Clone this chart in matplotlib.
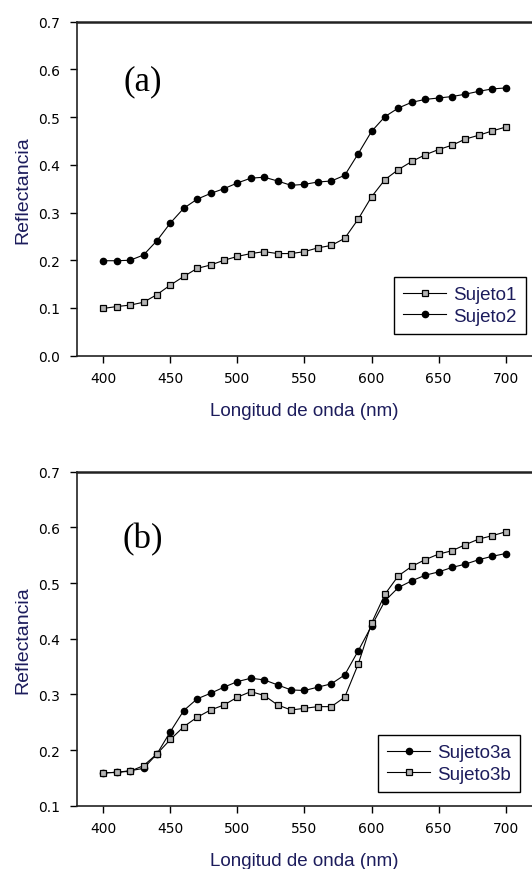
import matplotlib
matplotlib.use("Agg")
import matplotlib.pyplot as plt
import numpy as np

wavelength = list(range(400, 701, 10))

sujeto1 = [0.099, 0.103, 0.106, 0.112, 0.128, 0.148, 0.166, 0.183, 0.190, 0.200,
           0.208, 0.214, 0.218, 0.214, 0.214, 0.218, 0.226, 0.231, 0.246, 0.286,
           0.333, 0.369, 0.390, 0.407, 0.421, 0.432, 0.441, 0.454, 0.462, 0.471, 0.479]
sujeto2 = [0.199, 0.199, 0.200, 0.211, 0.241, 0.278, 0.309, 0.328, 0.340, 0.350,
           0.362, 0.372, 0.374, 0.366, 0.357, 0.359, 0.364, 0.366, 0.378, 0.423,
           0.470, 0.501, 0.519, 0.531, 0.537, 0.540, 0.543, 0.548, 0.554, 0.559, 0.561]
sujeto3a = [0.159, 0.160, 0.163, 0.167, 0.193, 0.233, 0.271, 0.292, 0.302, 0.313,
            0.323, 0.329, 0.326, 0.317, 0.308, 0.307, 0.313, 0.319, 0.335, 0.378,
            0.423, 0.468, 0.492, 0.504, 0.514, 0.520, 0.528, 0.534, 0.542, 0.548, 0.553]
sujeto3b = [0.159, 0.160, 0.162, 0.172, 0.193, 0.219, 0.242, 0.259, 0.272, 0.281,
            0.295, 0.305, 0.298, 0.281, 0.272, 0.275, 0.278, 0.278, 0.295, 0.354,
            0.428, 0.480, 0.513, 0.530, 0.542, 0.552, 0.558, 0.569, 0.579, 0.585, 0.592]

xticks = [400, 450, 500, 550, 600, 650, 700]
label_color = "#1c1c5c"
label_font = "Liberation Sans"

fig = plt.figure(figsize=(5.32, 8.7), dpi=100)
ax1 = fig.add_axes([0.1447, 0.590, 1.0 - 0.1447, 0.384])
ax2 = fig.add_axes([0.1447, 0.0727, 1.0 - 0.1447, 0.384])

sq = dict(marker="s", markersize=4.3, markerfacecolor="#b4b4b4", markeredgecolor="black",
          markeredgewidth=0.9, color="black", linewidth=0.8)
ci = dict(marker="o", markersize=4.5, markerfacecolor="black", markeredgecolor="black",
          color="black", linewidth=0.8)

ax1.plot(wavelength, sujeto1, label="Sujeto1", **sq)
ax1.plot(wavelength, sujeto2, label="Sujeto2", **ci)
ax2.plot(wavelength, sujeto3a, label="Sujeto3a", **ci)
ax2.plot(wavelength, sujeto3b, label="Sujeto3b", **sq)

panels = [(ax1, 0.0, "(a)", (0.986, 0.065), 82),
          (ax2, 0.1, "(b)", (0.974, 0.041), 540)]
for ax, ylo, tag, leg_anchor, tag_y in panels:
    ax.set_xlim(380.4, 719.6)
    ax.set_ylim(ylo, 0.7)
    ax.set_xticks(xticks)
    ax.set_yticks(np.round(np.arange(ylo, 0.71, 0.1), 1))
    ax.yaxis.set_major_formatter(matplotlib.ticker.FormatStrFormatter("%.1f"))
    ax.tick_params(direction="out", length=5, width=1, labelsize=10)
    ax.tick_params(axis="y", pad=7)
    ax.tick_params(axis="x", pad=6)
    ax.spines["right"].set_visible(False)
    for s in ["left", "bottom", "top"]:
        ax.spines[s].set_linewidth(1.2)
        ax.spines[s].set_color("#222222")
    ax.spines["top"].set_linewidth(1.8)
    ax.set_ylabel("Reflectancia", fontsize=14, color=label_color, labelpad=5,
                  family=label_font)
    ax.set_xlabel("Longitud de onda (nm)", fontsize=13.5, color=label_color, labelpad=12,
                  family=label_font)
    fig.text(143 / 532, 1 - tag_y / 870, tag, fontsize=25, family="Liberation Serif",
             ha="center", va="center")
    leg = ax.legend(loc="lower right", bbox_to_anchor=leg_anchor, borderaxespad=0,
                    fancybox=False, framealpha=1, edgecolor="black",
                    prop={"family": label_font, "size": 13.5},
                    handlelength=2.3, handletextpad=0.35, borderpad=0.5, labelspacing=0.22,
                    labelcolor=label_color)
    leg.get_frame().set_linewidth(1.0)

fig.savefig("out.png", dpi=100)
